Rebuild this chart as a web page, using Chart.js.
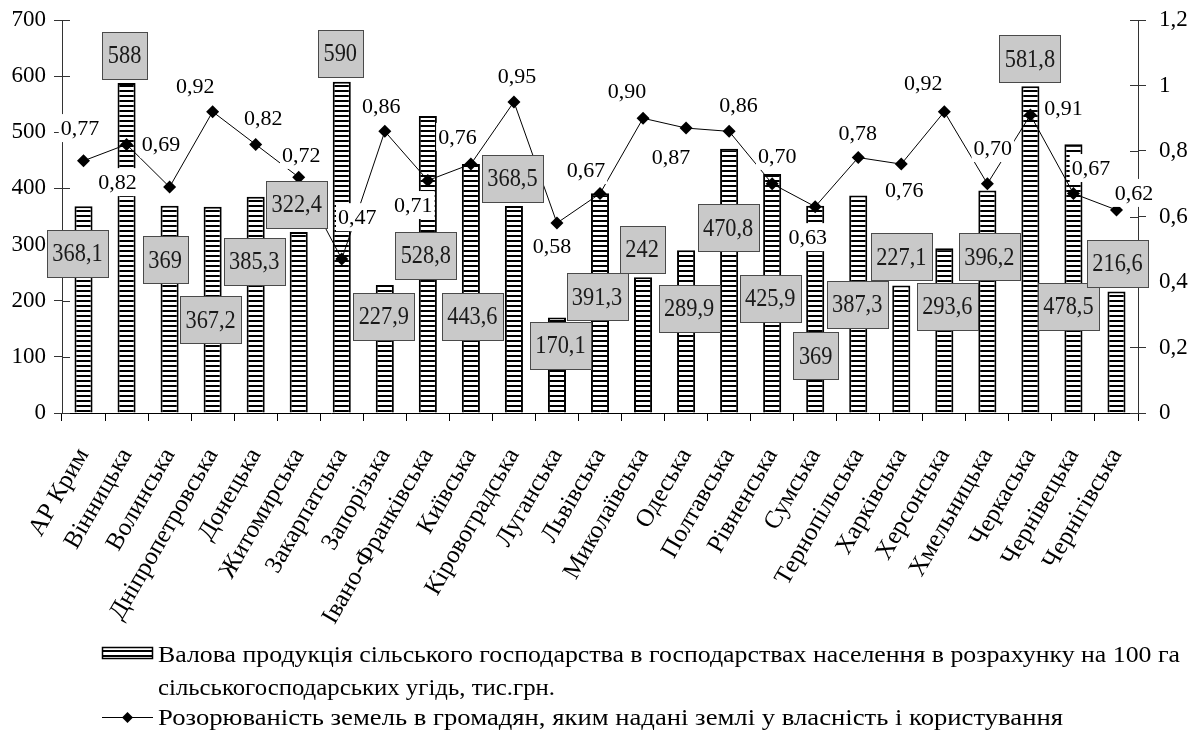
<!DOCTYPE html>
<html><head><meta charset="utf-8">
<script src="https://cdn.jsdelivr.net/npm/chart.js@4.4.0/dist/chart.umd.min.js"></script>
<style>html,body{margin:0;padding:0;background:#fff}</style>
</head><body>
<canvas id="c" width="1195" height="741" style="width:1195px;height:741px;display:block"></canvas>
<script>
const categories = ['АР Крим','Вінницька','Волинська','Дніпропетровська','Донецька','Житомирська','Закарпатська','Запорізька','Івано-Франківська','Київська','Кіровоградська','Луганська','Львівська','Миколаївська','Одеська','Полтавська','Рівненська','Сумська','Тернопільська','Харківська','Херсонська','Хмельницька','Черкаська','Чернівецька','Чернігівська'];
const grossOutput = [368.1,588,369,367.2,385.3,322.4,590,227.9,528.8,443.6,368.5,170.1,391.3,242,289.9,470.8,425.9,369,387.3,227.1,293.6,396.2,581.8,478.5,216.6];
const ploughedShare = [0.77,0.82,0.69,0.92,0.82,0.72,0.47,0.86,0.71,0.76,0.95,0.58,0.67,0.90,0.87,0.86,0.70,0.63,0.78,0.76,0.92,0.70,0.91,0.67,0.62];
const leftTickValues = [0,100,200,300,400,500,600,700];
const leftTickLabels = ['0','100','200','300','400','500','600','700'];
const rightTickValues = [0,0.2,0.4,0.6,0.8,1,1.2];
const rightTickLabels = ['0','0,2','0,4','0,6','0,8','1','1,2'];
const barSeriesLines = ['Валова продукція сільського господарства в господарствах населення в розрахунку на 100 га', 'сільськогосподарських угідь, тис.грн.'];
const lineSeriesName = 'Розорюваність земель в громадян, яким надані землі у власність і користування';

// label placement (pixel offset from category centre, vertical position in axis units)
const barLabelPlacement = [[-6,284],[-2,637],[-4.5,273],[-2,166],[-1.5,270],[-2,372],[-1.5,641],[-1,172],[-2,281],[1.5,172],[-1.5,418],[3.5,120],[-3,207],[-1,291],[3,186],[-1,330],[-2,204],[0.5,102],[-1,193],[0,278],[3,190],[2,278],[-0.5,631],[-5,190],[1,266]];
const lineLabelPlacement = [[-3.5,0.870],[-9,0.705],[-8.5,0.821],[-17.5,0.998],[7.5,0.901],[2.5,0.788],[15.5,0.598],[-3.5,0.937],[-14.5,0.635],[-13.5,0.843],[3,1.029],[-5,0.510],[-14,0.742],[-16,0.983],[-15,0.782],[9.5,0.940],[5,0.785],[-7.5,0.537],[-0.5,0.855],[3,0.681],[-21,1.008],[5.5,0.809],[33,0.931],[17.5,0.748],[17.5,0.672]];

const FONT = "'Liberation Serif','Times New Roman',serif";
const fmtComma = v => String(v).replace('.', ',');

function makeStripes(ctx){
  const pc = document.createElement('canvas');
  pc.width = 4; pc.height = 5;
  const p = pc.getContext('2d');
  p.fillStyle = '#fff'; p.fillRect(0,0,4,5);
  p.fillStyle = '#000'; p.fillRect(0,0,4,2);
  return ctx.createPattern(pc, 'repeat');
}

const canvas = document.getElementById('c');
const ctx0 = canvas.getContext('2d');
const stripes = makeStripes(ctx0);

const innerTicks = {
  id:'innerTicks',
  beforeDatasetsDraw(chart){
    const ctx = chart.ctx, yl = chart.scales.y, yr = chart.scales.y1;
    ctx.save();
    ctx.strokeStyle = '#333'; ctx.lineWidth = 1;
    ctx.beginPath();
    leftTickValues.forEach(v => { const y = Math.round(yl.getPixelForValue(v))+0.5; ctx.moveTo(yl.right, y); ctx.lineTo(yl.right+8, y); });
    rightTickValues.forEach(v => { const y = Math.round(yr.getPixelForValue(v))+0.5; ctx.moveTo(yr.left, y); ctx.lineTo(yr.left-8, y); });
    ctx.stroke();
    ctx.restore();
  }
};

const valueLabels = {
  id:'valueLabels',
  afterDatasetsDraw(chart){
    const ctx = chart.ctx, xs = chart.scales.x, yl = chart.scales.y, yr = chart.scales.y1;
    ctx.save();
    ctx.font = '22px ' + FONT;
    ctx.textAlign = 'center'; ctx.textBaseline = 'middle';
    ploughedShare.forEach((v,i) => {
      const t = v.toFixed(2).replace('.', ',');
      const cx = xs.getPixelForValue(i) + lineLabelPlacement[i][0];
      const cy = yr.getPixelForValue(lineLabelPlacement[i][1]);
      const w = ctx.measureText(t).width;
      ctx.fillStyle = '#fff';
      ctx.fillRect(cx - w/2 - 2, cy - 14, w + 4, 28);
      ctx.fillStyle = '#000';
      ctx.fillText(t, cx, cy + 1);
    });
    const sx = 0.86;
    ctx.font = '26px ' + FONT;
    grossOutput.forEach((v,i) => {
      const t = fmtComma(v);
      const cx = xs.getPixelForValue(i) + barLabelPlacement[i][0];
      const cy = yl.getPixelForValue(barLabelPlacement[i][1]);
      const w = ctx.measureText(t).width * sx;
      const bw = Math.round(w + 11), bh = 47;
      const bx = Math.round(cx - bw/2) + 0.5, by = Math.round(cy - bh/2) + 0.5;
      ctx.fillStyle = '#c9c9c9';
      ctx.fillRect(bx, by, bw, bh);
      ctx.strokeStyle = '#4a4a4a'; ctx.lineWidth = 1;
      ctx.strokeRect(bx, by, bw, bh);
      ctx.save();
      ctx.translate(cx, cy + 1);
      ctx.scale(sx, 1);
      ctx.fillStyle = '#1a1a1a';
      ctx.fillText(t, 0, 0);
      ctx.restore();
    });
    ctx.restore();
  }
};

const bottomLegend = {
  id:'bottomLegend',
  afterDraw(chart){
    const ctx = chart.ctx;
    ctx.save();
    ctx.fillStyle = stripes;
    ctx.fillRect(102, 647, 51, 12);
    ctx.strokeStyle = '#000'; ctx.lineWidth = 1.5;
    ctx.strokeRect(102.5, 647.5, 50, 11);
    ctx.lineWidth = 1;
    ctx.beginPath(); ctx.moveTo(102, 717.5); ctx.lineTo(153, 717.5); ctx.stroke();
    ctx.fillStyle = '#000';
    ctx.beginPath(); ctx.moveTo(127.5, 712); ctx.lineTo(133, 717.5); ctx.lineTo(127.5, 723); ctx.lineTo(122, 717.5); ctx.closePath(); ctx.fill();
    ctx.font = '23px ' + FONT;
    ctx.textAlign = 'left'; ctx.textBaseline = 'alphabetic';
    ctx.fillStyle = '#000';
    const draw = (t, x, y, target) => {
      const k = target / ctx.measureText(t).width;
      ctx.save(); ctx.translate(x, y); ctx.scale(k, 1); ctx.fillText(t, 0, 0); ctx.restore();
    };
    draw(barSeriesLines[0], 158, 662, 1022);
    draw(barSeriesLines[1], 158, 695, 397);
    draw(lineSeriesName, 158, 725, 905);
    ctx.restore();
  }
};

const noEdgePadding = s => { s.paddingTop = 0; s.paddingBottom = 0; };

new Chart(canvas, {
  data: {
    labels: categories,
    datasets: [
      { type:'line', label: lineSeriesName, data: ploughedShare, yAxisID:'y1', order:0,
        borderColor:'#000', borderWidth:1, pointStyle:'rectRot', pointRadius:6.5,
        pointBackgroundColor:'#000', pointBorderColor:'#000', pointBorderWidth:0, tension:0 },
      { type:'bar', label: barSeriesLines.join(' '), data: grossOutput, yAxisID:'y', order:1,
        backgroundColor: stripes, borderColor:'#000', borderWidth:2,
        barPercentage:0.42, categoryPercentage:1 }
    ]
  },
  options: {
    responsive:false, animation:false,
    layout:{padding:{top:20,left:0,right:0,bottom:0}},
    plugins:{legend:{display:false}, tooltip:{enabled:false}},
    scales:{
      x:{
        offset:true,
        grid:{offset:true, drawOnChartArea:false, drawTicks:true, tickLength:8, color:'#000', lineWidth:1},
        border:{display:true, color:'#000', width:1},
        ticks:{font:{family:FONT, size:25}, color:'#000', minRotation:60, maxRotation:60, autoSkip:false, padding:22, labelOffset:0},
        afterFit(s){ s.height = 328; }
      },
      y:{
        position:'left', min:0, max:700,
        afterBuildTicks(s){ s.ticks = leftTickValues.map(v => ({value:v})); },
        ticks:{font:{family:FONT, size:23}, color:'#000', padding:8, callback:(v,i)=>leftTickLabels[i]},
        grid:{drawOnChartArea:false, tickLength:8, color:'#333'},
        border:{display:true, color:'#333', width:1},
        afterFit(s){ s.width = 62; noEdgePadding(s); }
      },
      y1:{
        position:'right', min:0, max:1.2,
        afterBuildTicks(s){ s.ticks = rightTickValues.map(v => ({value:v})); },
        ticks:{font:{family:FONT, size:23}, color:'#000', padding:13, callback:(v,i)=>rightTickLabels[i]},
        grid:{drawOnChartArea:false, tickLength:8, color:'#333'},
        border:{display:true, color:'#333', width:1},
        afterFit(s){ s.width = 57; noEdgePadding(s); }
      }
    }
  },
  plugins:[innerTicks, valueLabels, bottomLegend]
});
</script>
</body></html>
